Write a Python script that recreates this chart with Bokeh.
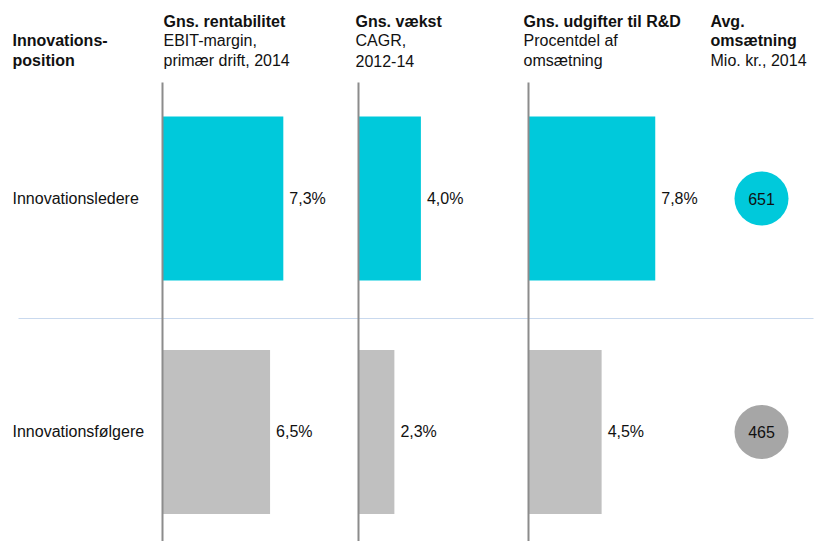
from bokeh.plotting import figure
from bokeh.models import Range1d, ColumnDataSource
from bokeh.core.properties import value
from bokeh.embed import file_html
from bokeh.resources import INLINE

# ---- data ----
categories = ["Innovationsledere", "Innovationsfølgere"]
rentabilitet = [7.3, 6.5]
vaekst = [4.0, 2.3]
rd_udgifter = [7.8, 4.5]
omsaetning = [651, 465]

header_left = ["Innovations-", "position"]
headers = [
    ["Gns. rentabilitet", "EBIT-margin,", "primær drift, 2014"],
    ["Gns. vækst", "CAGR,", "2012-14"],
    ["Gns. udgifter til R&D", "Procentdel af", "omsætning"],
]
header_circle = ["Avg.", "omsætning", "Mio. kr., 2014"]

# ---- styles ----
bar_colors = ["#00C9DB", "#C0C0C0"]
circle_colors = ["#00C9DB", "#A6A6A6"]
FONT = value("Liberation Sans")
FS = "16px"
W, H = 824, 541

p = figure(width=W, height=H, output_backend="svg", toolbar_location=None,
           x_axis_type=None, y_axis_type=None, min_border=0,
           x_range=Range1d(0, W), y_range=Range1d(H, 0))
p.outline_line_color = None
p.background_fill_color = "white"
p.border_fill_color = "white"

# row axis (numeric index, top row = leaders)
rows = [len(categories) - 1 - i for i in range(len(categories))]
p.extra_y_ranges = {"rows": Range1d(-0.469, 1.848)}

# separator line between rows
p.segment(x0=18, x1=813, y0=318, y1=318, line_color="#C9D9EE", line_width=1)

# panels: (values, left pixel, pixels per percent)
panels = [(rentabilitet, 162, 16.55), (vaekst, 358, 15.6), (rd_udgifter, 528, 16.25)]
header_x = [163, 355, 523]

for k, (vals, x0, s) in enumerate(panels):
    name = f"panel{k}"
    p.extra_x_ranges[name] = Range1d(-x0 / s, (W - x0) / s)
    src = ColumnDataSource(dict(
        row=rows, val=vals, color=bar_colors,
        label=[f"{v:.1f}".replace(".", ",") + "%" for v in vals]))
    p.hbar(y="row", left=0, right="val", height=0.702, source=src,
           fill_color="color", line_color=None,
           x_range_name=name, y_range_name="rows")
    p.segment(x0=0, x1=0, y0=82, y1=H, line_color="#8C8C8C", line_width=2,
              x_range_name=name)
    p.text(x="val", y="row", text="label", source=src, x_offset=6,
           text_baseline="middle", text_align="left", text_font=FONT,
           text_font_size=FS, text_color="#111111",
           x_range_name=name, y_range_name="rows")
    # header
    hx = header_x[k]
    for j, (t, yy) in enumerate(zip(headers[k], [21, 40, 60])):
        p.text(x=[hx], y=[yy], text=[t], text_baseline="middle",
               text_font=FONT, text_font_size=FS, text_color="#111111",
               text_font_style="bold" if j == 0 else "normal")

# circle column
csrc = ColumnDataSource(dict(row=rows, val=omsaetning, color=circle_colors,
                             label=[str(v) for v in omsaetning]))
p.scatter(x=761, y="row", size=54, source=csrc, fill_color="color",
          line_color=None, y_range_name="rows")
p.text(x=761, y="row", text="label", source=csrc, text_align="center",
       text_baseline="middle", text_font=FONT, text_font_size=FS,
       text_color="#111111", y_range_name="rows")
for j, (t, yy) in enumerate(zip(header_circle, [21, 40, 60])):
    p.text(x=[710], y=[yy], text=[t], text_baseline="middle", text_font=FONT,
           text_font_size=FS, text_color="#111111",
           text_font_style="bold" if j < 2 else "normal")

# left header and row labels
for t, yy in zip(header_left, [40, 60]):
    p.text(x=[12], y=[yy], text=[t], text_baseline="middle", text_font=FONT,
           text_font_size=FS, text_color="#111111", text_font_style="bold")
lsrc = ColumnDataSource(dict(row=rows, cat=categories))
p.text(x=12, y="row", text="cat", source=lsrc, text_baseline="middle",
       text_font=FONT, text_font_size=FS, text_color="#111111",
       y_range_name="rows")

open("out.html", "w").write(file_html(p, INLINE))
